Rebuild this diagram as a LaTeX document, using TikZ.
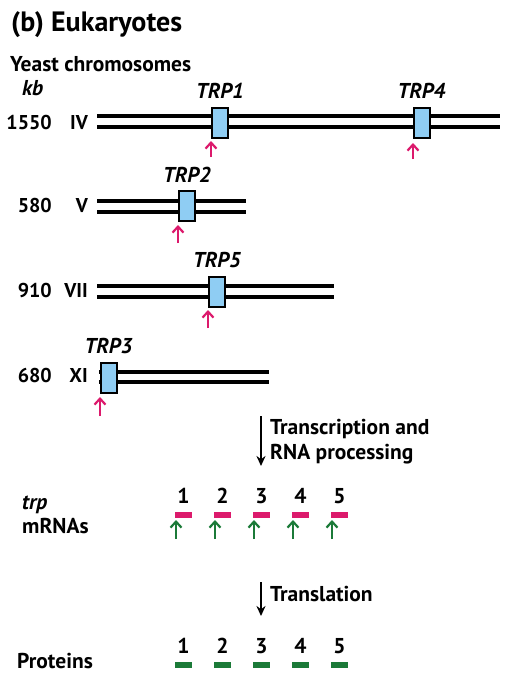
\documentclass[tikz,border=0pt]{standalone}
\usepackage{fontspec}
\setmainfont{PT Sans}
\usetikzlibrary{arrows.meta}
\definecolor{magentaR}{HTML}{DC1A6C}
\definecolor{greenP}{HTML}{1B7A38}
\definecolor{geneblue}{HTML}{8FCDF3}
\tikzset{
  txt/.style={font=\fontsize{21.5}{24}\selectfont\bfseries, inner sep=0pt, anchor=base west},
  gtxt/.style={font=\fontsize{21.5}{24}\selectfont\bfseries\itshape, inner sep=0pt, anchor=base},
  num/.style={font=\fontsize{20}{22}\selectfont\bfseries, inner sep=0pt, anchor=base east},
  chrom/.style={line width=4pt},
  gene/.style={draw=black, line width=2pt, fill=geneblue, minimum width=16pt, minimum height=30pt, inner sep=0pt},
  siteup/.style={draw=magentaR, line width=2.2pt, -{Straight Barb[length=6pt,width=11pt]}},
  startup/.style={draw=greenP, line width=2.2pt, -{Straight Barb[length=6pt,width=11pt]}},
  mbar/.style={fill=magentaR, draw=none, minimum width=17pt, minimum height=6pt, inner sep=0pt},
  pbar/.style={fill=greenP, draw=none, minimum width=17pt, minimum height=6pt, inner sep=0pt},
  step arrow/.style={line width=2pt, -{Stealth[length=10pt,width=9pt]}},
}
\begin{document}
\begin{tikzpicture}[x=1pt,y=-1pt]
\useasboundingbox (0,0) rectangle (521,691);
% title
\node[txt, font=\fontsize{28}{30}\selectfont\bfseries] (title) at (11,31) {(b) Eukaryotes};
\node[txt] (yeast) at (10,71) {Yeast chromosomes};
\node[txt, font=\fontsize{21.5}{24}\selectfont\bfseries\itshape] (kb) at (22,95) {kb};
% chromosome IV
\node[num] (n4) at (52,129) {1550};
\node[num] (r4) at (88,129) {IV};
\draw[chrom] (97,115.5) coordinate (c4a) -- (500,115.5) coordinate (c4b);
\draw[chrom] (97,127) coordinate (c4c) -- (500,127) coordinate (c4d);
\node[gene] (trp1) at (219.5,122.5) {};
\node[gene] (trp4) at (422,122.5) {};
\node[gtxt] (l1) at (220,98) {TRP1};
\node[gtxt] (l4) at (421.5,98) {TRP4};
\coordinate (a1) at (211,157);
\coordinate (a4) at (413,159);
\draw[siteup] (a1) -- (a1 |- 0,141);
\draw[siteup] (a4) -- (a4 |- 0,143);
% chromosome V
\node[num] (n5) at (52,212) {580};
\node[num] (r5) at (88,212) {V};
\draw[chrom] (97,200.5) -- (246,200.5);
\draw[chrom] (97,211.5) -- (246,211.5);
\node[gene] (trp2) at (187,206) {};
\node[gtxt] (l2) at (187,182) {TRP2};
\coordinate (a2) at (178,243);
\draw[siteup] (a2) -- (a2 |- 0,225);
% chromosome VII
\node[num] (n7) at (52,297) {910};
\node[num] (r7) at (88,297) {VII};
\draw[chrom] (97,285.5) -- (334,285.5);
\draw[chrom] (97,296.5) -- (334,296.5);
\node[gene] (trp5) at (217,291.5) {};
\node[gtxt] (l5) at (217,267) {TRP5};
\coordinate (a5) at (208,328);
\draw[siteup] (a5) -- (a5 |- 0,310);
% chromosome XI
\node[num] (n11) at (52,382) {680};
\node[num] (r11) at (88,382) {XI};
\draw[chrom] (99,371.5) -- (269,371.5);
\draw[chrom] (99,382) -- (269,382);
\node[gene] (trp3) at (108.5,377.5) {};
\node[gtxt] (l3) at (108.5,353) {TRP3};
\coordinate (a3) at (100,416);
\draw[siteup] (a3) -- (a3 |- 0,397);
% transcription
\coordinate (t1) at (261,416);
\coordinate (t2) at (261,466);
\draw[step arrow] (t1) -- (t2);
\node[txt] (tr1) at (270,434) {Transcription and};
\node[txt] (tr2) at (270,459) {RNA processing};
% mRNAs
\node[txt, font=\fontsize{21.5}{24}\selectfont\bfseries\itshape] (trp) at (22,509) {trp};
\node[txt] (mrna) at (22,533) {mRNAs};
\foreach \i/\x in {1/183.5,2/222.5,3/261.5,4/300.5,5/339.5}{
  \node[txt, anchor=base] (mn\i) at (\x,503) {\i};
  \node[mbar] (m\i) at (\x,514.5) {};
  \coordinate (g\i) at (\x-7.5,539);
  \draw[startup] (g\i) -- (g\i |- 0,520);
}
% translation
\coordinate (u1) at (261,582);
\coordinate (u2) at (261,616);
\draw[step arrow] (u1) -- (u2);
\node[txt] (tl) at (270,601) {Translation};
% proteins
\node[txt] (prot) at (17,668) {Proteins};
\foreach \i/\x in {1/183.5,2/222.5,3/261.5,4/300.5,5/339.5}{
  \node[txt, anchor=base] (pn\i) at (\x,653) {\i};
  \node[pbar] (p\i) at (\x,665) {};
}
\end{tikzpicture}
\end{document}
